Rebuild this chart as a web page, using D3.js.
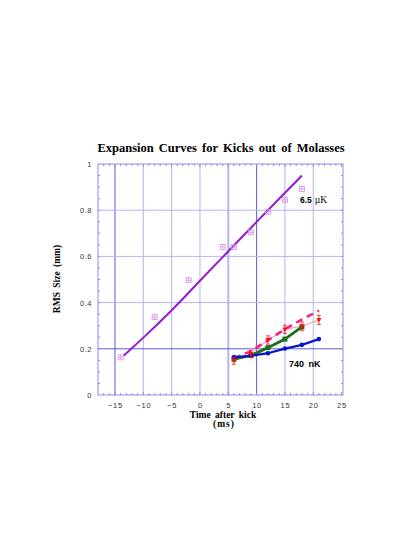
<!DOCTYPE html>
<html>
<head>
<meta charset="utf-8">
<script src="https://cdn.jsdelivr.net/npm/d3@7"></script>
<style>
  body { margin: 0; background: #fff; }
  .serif { font-family: "Liberation Serif", "DejaVu Serif", serif; }
  .sans { font-family: "Liberation Sans", Arial, sans-serif; }
</style>
</head>
<body>
<div id="vis"></div>
<script>
// 6.5 uK data (kick from molasses) and its fit
const hotT = [-14, -8, -2, 4, 6, 9, 12, 15, 18]
const hotRms = [0.163, 0.337, 0.497, 0.641, 0.641, 0.704, 0.793, 0.845, 0.892]
const hotFitT = [-13.5, -10, -5, 0, 5, 10, 15, 18]
const hotFitRms = [0.17, 0.247, 0.365, 0.495, 0.622, 0.75, 0.875, 0.95]

// 740 nK curves
const coldT = [6, 9, 12, 15, 18, 21]
const blueRms = [0.164, 0.169, 0.181, 0.201, 0.217, 0.242]
const greenT = [6, 9, 12, 15, 18]
const greenRms = [0.155, 0.171, 0.205, 0.242, 0.295]
const redRms = [0.148, 0.178, 0.238, 0.284, 0.298, 0.325]
const redErr = [0.015, 0.015, 0.018, 0.018, 0.018, 0.02]
const pinkRms = [0.158, 0.19, 0.237, 0.285, 0.327, 0.365]

const xTicks = [-15, -10, -5, 0, 5, 10, 15, 20, 25]
const yTicks = [0, 0.2, 0.4, 0.6, 0.8, 1]

const W = 415, H = 537
const plot = { left: 98, right: 343, top: 164, bottom: 395 }

let svg = d3.select("#vis").append("svg")
    .attr("width", W)
    .attr("height", H)

let x = d3.scaleLinear().domain([-18, 25.25]).range([plot.left, plot.right])
let y = d3.scaleLinear().domain([0, 1]).range([plot.bottom, plot.top])

// title
svg.append("text")
    .attr("class", "serif")
    .attr("x", 221)
    .attr("y", 152)
    .attr("text-anchor", "middle")
    .style("font-size", "12.5px")
    .style("font-weight", "bold")
    .style("word-spacing", "2px")
    .text("Expansion Curves for Kicks out of Molasses")

// grid
let gridLight = "#b4b4f4", gridDark = "#5c5cd6"
svg.append("g").selectAll("line")
    .data(xTicks.filter(d => d < 25))
    .join("line")
    .attr("x1", d => x(d)).attr("x2", d => x(d))
    .attr("y1", plot.top).attr("y2", plot.bottom)
    .attr("stroke", d => (d === -15 || d === 10) ? gridDark : gridLight)
    .attr("stroke-width", d => d === 5 ? 2 : 1)

svg.append("g").selectAll("line")
    .data(yTicks.filter(d => d > 0 && d < 1))
    .join("line")
    .attr("x1", plot.left).attr("x2", plot.right)
    .attr("y1", d => y(d)).attr("y2", d => y(d))
    .attr("stroke", d => d === 0.2 ? gridDark : gridLight)

// frame
let frameColor = "#8c8ce8"
svg.append("rect")
    .attr("x", plot.left).attr("y", plot.top)
    .attr("width", plot.right - plot.left)
    .attr("height", plot.bottom - plot.top)
    .attr("fill", "none")
    .attr("stroke", frameColor)

// minor ticks, pointing inward on all four sides
let xMinor = d3.range(-17, 26, 1)
let yMinor = d3.range(0.05, 1, 0.05)
let ticks = svg.append("g").attr("stroke", frameColor)
xMinor.forEach(t => {
    let len = t % 5 === 0 ? 3 : 2
    ticks.append("line").attr("x1", x(t)).attr("x2", x(t)).attr("y1", plot.bottom).attr("y2", plot.bottom - len)
    ticks.append("line").attr("x1", x(t)).attr("x2", x(t)).attr("y1", plot.top).attr("y2", plot.top + len)
})
yMinor.forEach(t => {
    ticks.append("line").attr("x1", plot.left).attr("x2", plot.left + 2).attr("y1", y(t)).attr("y2", y(t))
    ticks.append("line").attr("x1", plot.right).attr("x2", plot.right - 2).attr("y1", y(t)).attr("y2", y(t))
})

// tick labels
let xAxis = svg.append("g")
    .attr("transform", `translate(0,${plot.bottom})`)
    .call(d3.axisBottom(x).tickValues(xTicks).tickSize(0).tickPadding(8))
xAxis.select(".domain").remove()
xAxis.selectAll("text")
    .attr("class", "sans")
    .attr("fill", "#333")
    .style("font-size", "7.5px")
    .style("letter-spacing", "0.8px")

let yAxis = svg.append("g")
    .attr("transform", `translate(${plot.left},0)`)
    .call(d3.axisLeft(y).tickValues(yTicks).tickFormat(d3.format("")).tickSize(0).tickPadding(6))
yAxis.select(".domain").remove()
yAxis.selectAll("text")
    .attr("class", "sans")
    .attr("fill", "#333")
    .style("font-size", "7.5px")
    .style("letter-spacing", "0.5px")

// axis titles
svg.append("text")
    .attr("class", "serif")
    .attr("x", 223).attr("y", 418)
    .attr("text-anchor", "middle")
    .style("font-size", "9.5px")
    .style("font-weight", "bold")
    .style("word-spacing", "2px")
    .text("Time after kick")
svg.append("text")
    .attr("class", "serif")
    .attr("x", 224).attr("y", 427)
    .attr("text-anchor", "middle")
    .style("font-size", "9.5px")
    .style("font-weight", "bold")
    .style("letter-spacing", "1px")
    .text("(ms)")
svg.append("text")
    .attr("class", "serif")
    .attr("transform", "translate(60,279) rotate(-90)")
    .attr("text-anchor", "middle")
    .style("font-size", "9.5px")
    .style("font-weight", "bold")
    .style("word-spacing", "2px")
    .text("RMS Size (mm)")

let zip = (a, b) => a.map((v, i) => [v, b[i]])
let straight = d3.line().x(d => x(d[0])).y(d => y(d[1]))

let marks = svg.append("g")

// 6.5 uK fit curve
marks.append("path")
    .datum(zip(hotFitT, hotFitRms))
    .attr("fill", "none")
    .attr("stroke", "#9418d0")
    .attr("stroke-width", 2)
    .attr("d", d3.line().x(d => x(d[0])).y(d => y(d[1])).curve(d3.curveBasis))

// 6.5 uK data: crossed squares
let hot = marks.append("g").selectAll("g")
    .data(zip(hotT, hotRms))
    .join("g")
    .attr("transform", d => `translate(${x(d[0])},${y(d[1])})`)
    .attr("stroke", "#d490e4")
    .attr("fill", "none")
    .attr("stroke-width", 0.8)
hot.append("rect").attr("x", -2.5).attr("y", -2.5).attr("width", 5).attr("height", 5)
hot.append("line").attr("x1", -2.5).attr("x2", 2.5)
hot.append("line").attr("y1", -2.5).attr("y2", 2.5)

// red data, thin connecting line
marks.append("path")
    .datum(zip(coldT, redRms))
    .attr("fill", "none")
    .attr("stroke", "#ff7a7a")
    .attr("stroke-width", 0.8)
    .attr("d", straight)

// pink dashed fit
marks.append("path")
    .datum(zip(coldT, pinkRms))
    .attr("fill", "none")
    .attr("stroke", "#ff1a8c")
    .attr("stroke-width", 2.5)
    .attr("stroke-dasharray", "7,5")
    .attr("d", straight)

// green
marks.append("path")
    .datum(zip(greenT, greenRms))
    .attr("fill", "none")
    .attr("stroke", "#1e6e1e")
    .attr("stroke-width", 2.8)
    .attr("d", straight)
marks.append("g").selectAll("rect")
    .data(zip(greenT, greenRms))
    .join("rect")
    .attr("x", d => x(d[0]) - 2.5).attr("y", d => y(d[1]) - 2.5)
    .attr("width", 5).attr("height", 5)
    .attr("fill", "#1e6e1e")

// blue
marks.append("path")
    .datum(zip(coldT, blueRms))
    .attr("fill", "none")
    .attr("stroke", "#0a14c8")
    .attr("stroke-width", 2.2)
    .attr("d", straight)
marks.append("g").selectAll("circle")
    .data(zip(coldT, blueRms))
    .join("circle")
    .attr("cx", d => x(d[0])).attr("cy", d => y(d[1]))
    .attr("r", 2.3)
    .attr("fill", "#0a14c8")

// red markers with error bars
let red = marks.append("g").selectAll("g")
    .data(coldT.map((t, i) => ({ t: t, v: redRms[i], e: redErr[i] })))
    .join("g")
    .attr("stroke", "#ff1010")
    .attr("fill", "#ff1010")
red.append("line")
    .attr("x1", d => x(d.t)).attr("x2", d => x(d.t))
    .attr("y1", d => y(d.v - d.e)).attr("y2", d => y(d.v + d.e))
    .attr("stroke-width", 0.8)
red.append("line")
    .attr("x1", d => x(d.t) - 2).attr("x2", d => x(d.t) + 2)
    .attr("y1", d => y(d.v + d.e)).attr("y2", d => y(d.v + d.e))
    .attr("stroke-width", 0.8)
red.append("line")
    .attr("x1", d => x(d.t) - 2).attr("x2", d => x(d.t) + 2)
    .attr("y1", d => y(d.v - d.e)).attr("y2", d => y(d.v - d.e))
    .attr("stroke-width", 0.8)
red.append("path")
    .attr("d", d => `M${x(d.t) - 2.5},${y(d.v) - 2}L${x(d.t) + 2.5},${y(d.v) - 2}L${x(d.t)},${y(d.v) + 2.5}Z`)
    .attr("stroke", "none")

// labels in the plot
let hotLabel = svg.append("text")
    .attr("x", 300).attr("y", 203)
hotLabel.append("tspan")
    .attr("class", "sans")
    .style("font-size", "8.5px")
    .style("font-weight", "bold")
    .text("6.5")
hotLabel.append("tspan")
    .attr("class", "serif")
    .attr("dx", 3)
    .style("font-size", "9.5px")
    .text("\u00b5K")

svg.append("text")
    .attr("class", "sans")
    .attr("x", 289).attr("y", 367)
    .style("font-size", "9px")
    .style("font-weight", "bold")
    .style("word-spacing", "2px")
    .text("740 nK")
</script>
</body>
</html>
